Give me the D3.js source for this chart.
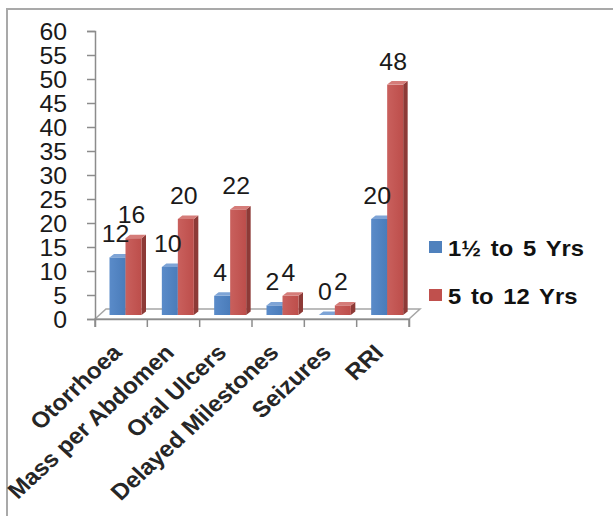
<!DOCTYPE html>
<html><head><meta charset="utf-8">
<script src="https://cdn.jsdelivr.net/npm/d3@7"></script>
<style>html,body{margin:0;padding:0;background:#fff;}svg{display:block;}</style>
</head><body>
<svg id="c" width="613" height="516"></svg>
<script>
const categories = ["Otorrhoea","Mass per Abdomen","Oral Ulcers","Delayed Milestones","Seizures","RRI"];
const seriesNames = ["1\u00BD to 5 Yrs","5 to 12 Yrs"];
const young = [12,10,4,2,0,20];
const older = [16,20,22,4,2,48];
const yTicks = [0,5,10,15,20,25,30,35,40,45,50,55,60];

const svg = d3.select("#c");
const SX = 1.08;
const font = "'Liberation Sans', Arial, sans-serif";

// border
svg.append("path").attr("d","M7,516V9H613").attr("fill","none").attr("stroke","#a9a9a9").attr("stroke-width",2);

const y = d3.scaleLinear().domain([0,60]).range([319,31]);
const yb = d3.scaleLinear().domain([0,60]).range([315,27]);
const x = d3.scaleBand().domain(categories).range([95,409]).padding(0);

// floor
const fdx = 11, fdy = -10;
svg.append("polygon")
  .attr("points",[[95,319],[409,319],[409+fdx,319+fdy],[95+fdx,319+fdy]].map(p=>p.join(",")).join(" "))
  .attr("fill","#fff").attr("stroke","#a6a6a6").attr("stroke-width",1.5);

// y axis
const yAxis = d3.axisLeft(y).tickValues(yTicks).tickSize(8).tickPadding(20);
const ga = svg.append("g").attr("transform","translate(95,0)").call(yAxis);
ga.select(".domain").attr("stroke","#8c8c8c").attr("stroke-width",1.5);
ga.selectAll(".tick line").attr("stroke","#8c8c8c").attr("stroke-width",1.5);
ga.selectAll(".tick text").attr("font-family",font).attr("font-size",23).attr("fill","#1a1a1a")
  .attr("x",null).attr("dy",null).attr("dominant-baseline","central")
  .attr("transform",function(){return "translate(-28,0) scale("+SX+",1)";})
  .attr("text-anchor","end");

// x axis
const xAxis = d3.axisBottom(x).tickSizeOuter(0).tickSize(8).tickFormat("");
const gx = svg.append("g").attr("transform","translate(0,319)").call(xAxis);
gx.select(".domain").attr("stroke","#8c8c8c").attr("stroke-width",1.5);
gx.selectAll(".tick").remove();
const edges = categories.map(c=>x(c)).concat([x(categories[categories.length-1])+x.bandwidth()]);
gx.selectAll("line.edge").data(edges).enter().append("line").attr("class","edge")
  .attr("x1",d=>d).attr("x2",d=>d).attr("y1",0).attr("y2",8)
  .attr("stroke","#8c8c8c").attr("stroke-width",1.5);

// gradients
const defs = svg.append("defs");
function grad(id,c1,c2){
  const g = defs.append("linearGradient").attr("id",id).attr("x1","0").attr("x2","1").attr("y1","0").attr("y2","0");
  g.append("stop").attr("offset","0").attr("stop-color",c1);
  g.append("stop").attr("offset","1").attr("stop-color",c2);
}
grad("gb","#5a8bc9","#4a7cba");
grad("gr","#c9605d","#bd4e4b");

const styles = [
  {front:"url(#gb)", top:"#7ea4d6", side:"#3b628f", legend:"#4f81bd", off:14.5},
  {front:"url(#gr)", top:"#d57c79", side:"#8d3a37", legend:"#c0504d", off:30.5}
];
const bw = 16, ddx = 4.5, ddy = -3.5;
const series = [young, older];

series.forEach((vals,si)=>{
  const st = styles[si];
  const g = svg.append("g");
  const data = categories.map((c,i)=>({c, v: vals[i]}));
  const bx = d => x(d.c) + st.off;
  const bottom = yb(0);
  g.selectAll("polygon.side").data(data).enter().append("polygon").attr("class","side")
    .attr("points",d=>{const x0=bx(d)+bw, t=yb(d.v);
      return [[x0,t],[x0+ddx,t+ddy],[x0+ddx,bottom+ddy],[x0,bottom]].map(p=>p.join(",")).join(" ");})
    .attr("fill",st.side);
  g.selectAll("rect").data(data).enter().append("rect")
    .attr("x",bx).attr("y",d=>yb(d.v)).attr("width",bw).attr("height",d=>bottom-yb(d.v))
    .attr("fill",st.front);
  g.selectAll("polygon.top").data(data).enter().append("polygon").attr("class","top")
    .attr("points",d=>{const x0=bx(d), t=yb(d.v);
      return [[x0,t],[x0+ddx,t+ddy],[x0+bw+ddx,t+ddy],[x0+bw,t]].map(p=>p.join(",")).join(" ");})
    .attr("fill",st.top);
});

// data labels
series.forEach((vals,si)=>{
  const st = styles[si];
  svg.append("g").selectAll("text").data(categories.map((c,i)=>({c,v:vals[i]}))).enter().append("text")
    .attr("transform",d=>"translate("+(x(d.c)+st.off+bw/2-2)+","+(yb(d.v)-15)+") scale("+SX+",1)")
    .attr("text-anchor","middle").attr("font-family",font).attr("font-size",23).attr("fill","#1a1a1a")
    .text(d=>d.v);
});

// category labels
svg.append("g").selectAll("text").data(categories).enter().append("text")
  .attr("transform",d=>"translate("+(x(d)+x.bandwidth()/2+2)+",354) scale("+SX+",1) rotate(-45)")
  .attr("text-anchor","end").attr("font-family",font).attr("font-weight","bold")
  .attr("font-size",22.5).attr("fill","#262626").text(d=>d);

// legend
const lg = svg.append("g");
seriesNames.forEach((n,i)=>{
  const yy = 241 + i*48;
  lg.append("rect").attr("x",429).attr("y",yy).attr("width",13).attr("height",12).attr("fill",styles[i].legend);
  lg.append("text").attr("transform","translate(448,"+(yy+15)+") scale("+SX+",1)")
    .attr("font-family",font).attr("font-weight","bold").attr("font-size",22).attr("fill","#111")
    .attr("word-spacing",3).text(n);
});
</script>
</body></html>
